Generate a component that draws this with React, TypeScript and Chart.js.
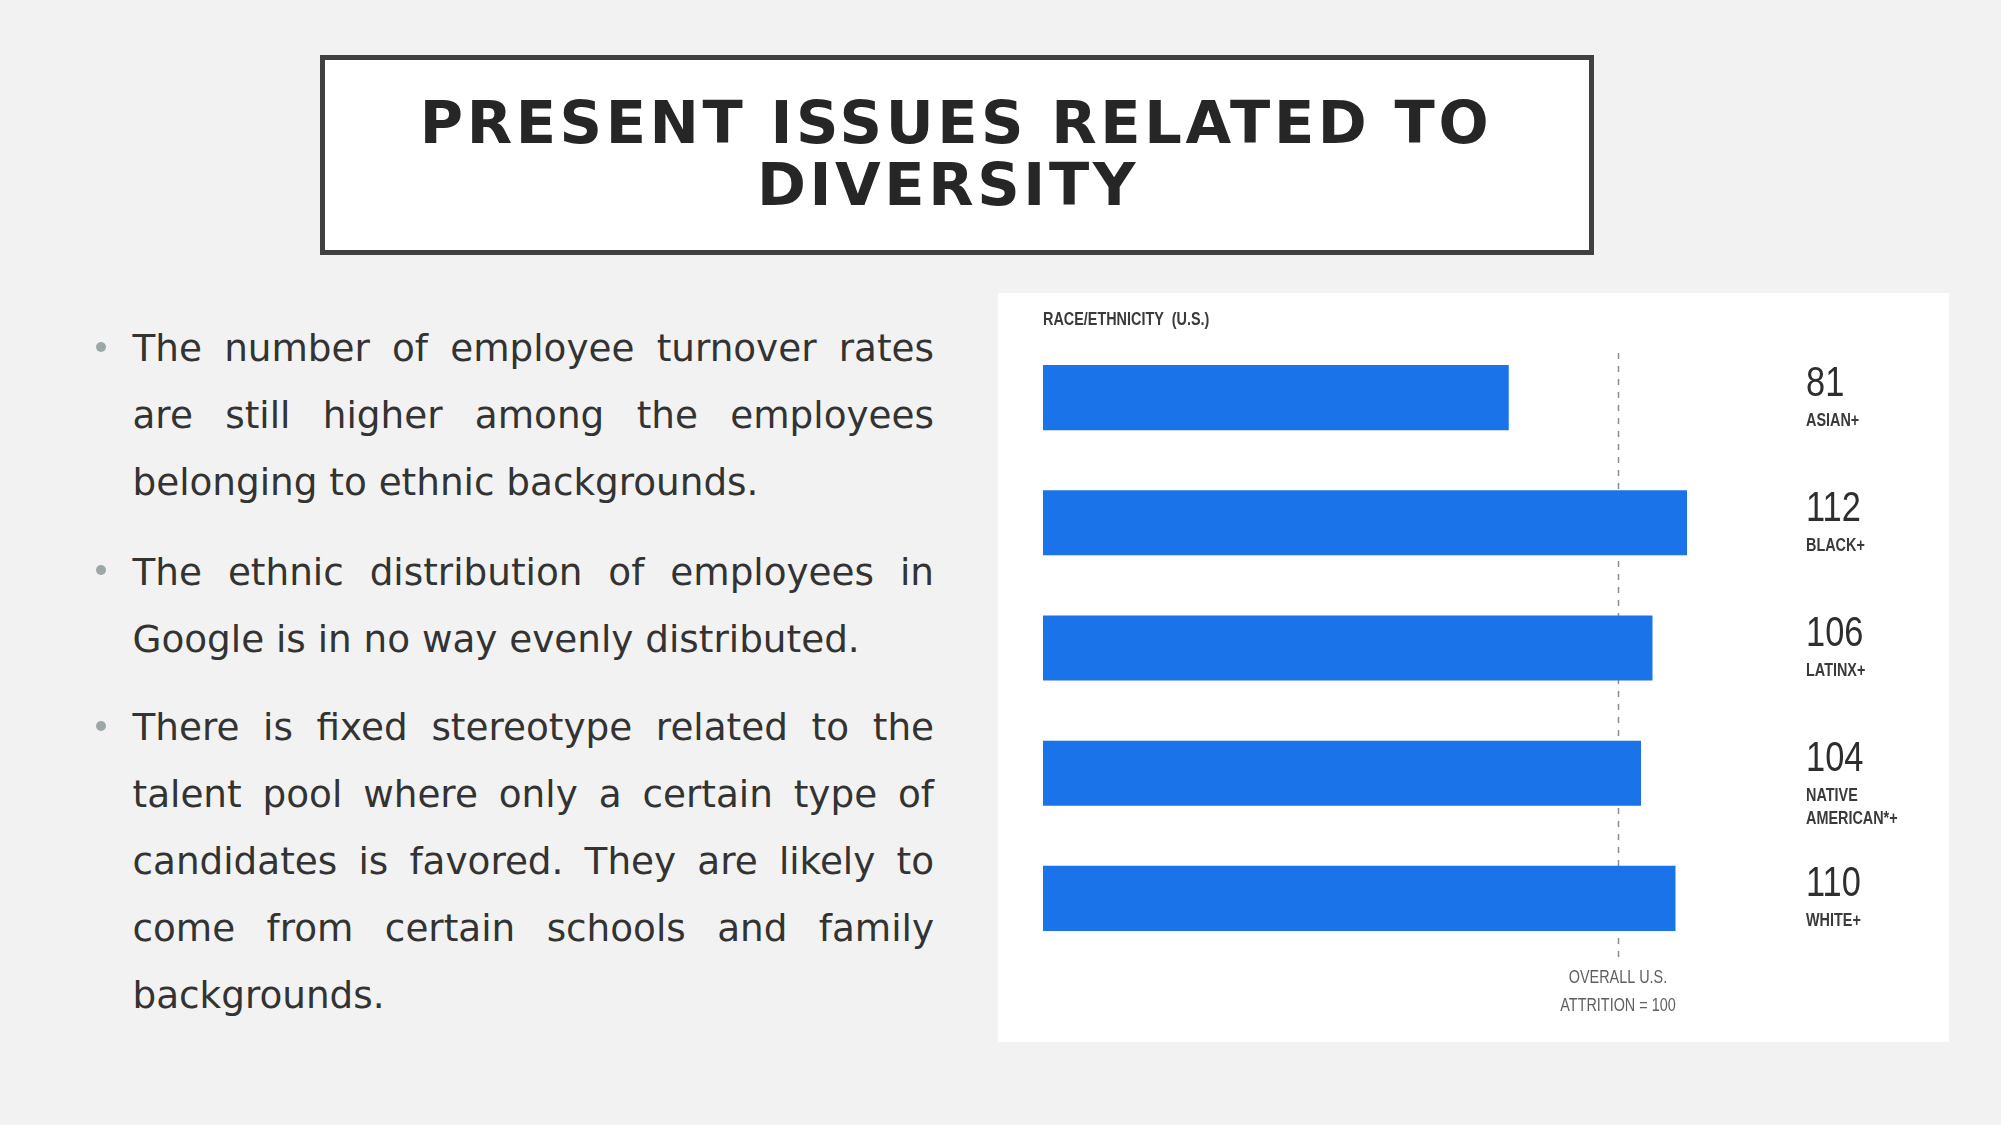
import React, { useEffect, useRef } from "react";
import { Chart, registerables } from "chart.js";

Chart.register(...registerables);

const categories = ["ASIAN+", "BLACK+", "LATINX+", "NATIVE AMERICAN*+", "WHITE+"];
const attritionValues = [81, 112, 106, 104, 110];
const categoryLabelLines = [["ASIAN+"], ["BLACK+"], ["LATINX+"], ["NATIVE", "AMERICAN*+"], ["WHITE+"]];
const referenceValue = 100;
const axisMin = 0;
const axisMax = 150;
const chartHeading = "RACE/ETHNICITY  (U.S.)";
const referenceLabelLines = ["OVERALL U.S.", "ATTRITION = 100"];

const titleLines = ["PRESENT ISSUES RELATED TO", "DIVERSITY"];
const bulletParagraphs = [
  ["The number of employee turnover rates", "are still higher among the employees", "belonging to ethnic backgrounds."],
  ["The ethnic distribution of employees in", "Google is in no way evenly distributed."],
  [
    "There is fixed stereotype related to the",
    "talent pool where only a certain type of",
    "candidates is favored. They are likely to",
    "come from certain schools and family",
    "backgrounds.",
  ],
];

const NARROW = 0.8;

function drawNarrow(ctx: CanvasRenderingContext2D, text: string, x: number, y: number, font: string, color: string, align: CanvasTextAlign) {
  ctx.save();
  ctx.translate(x, y);
  ctx.scale(NARROW, 1);
  ctx.font = font;
  ctx.fillStyle = color;
  ctx.textAlign = align;
  ctx.textBaseline = "alphabetic";
  ctx.fillText(text, 0, 0);
  ctx.restore();
}

const annotationPlugin = {
  id: "annotations",
  beforeDatasetsDraw(chart: any) {
    const { ctx, chartArea, scales } = chart;
    const x = Math.round(scales.x.getPixelForValue(referenceValue)) + 0.5;
    ctx.save();
    ctx.strokeStyle = "#8c8c8c";
    ctx.lineWidth = 1.5;
    ctx.setLineDash([6, 7]);
    ctx.beginPath();
    ctx.moveTo(x, chartArea.top + 18);
    ctx.lineTo(x, chartArea.bottom - 2);
    ctx.stroke();
    ctx.restore();
  },
  afterDatasetsDraw(chart: any) {
    const { ctx, chartArea, scales } = chart;
    drawNarrow(ctx, chartHeading, chartArea.left, chartArea.top - 10, "bold 18px 'Liberation Sans'", "#3a3a3a", "left");
    const labelX = chartArea.left + 763;
    attritionValues.forEach((v, i) => {
      const y = scales.y.getPixelForValue(i);
      drawNarrow(ctx, String(v), labelX, y - 2, "43px 'Liberation Sans'", "#2e2e2e", "left");
      categoryLabelLines[i].forEach((line, j) => {
        drawNarrow(ctx, line, labelX, y + 28 + j * 23, "bold 18px 'Liberation Sans'", "#3a3a3a", "left");
      });
    });
    const rx = scales.x.getPixelForValue(referenceValue);
    referenceLabelLines.forEach((line, j) => {
      drawNarrow(ctx, line, rx, chartArea.bottom + 22 + j * 28, "18px 'Liberation Sans'", "#5f5f5f", "center");
    });
  },
};

function BarChart() {
  const ref = useRef<HTMLCanvasElement | null>(null);
  useEffect(() => {
    if (!ref.current) return;
    const chart = new Chart(ref.current, {
      type: "bar",
      data: {
        labels: categories,
        datasets: [
          {
            data: attritionValues,
            backgroundColor: "#1a73e8",
            borderWidth: 0,
            categoryPercentage: 1,
            barPercentage: 0.52,
          },
        ],
      },
      options: {
        indexAxis: "y",
        animation: false,
        responsive: false,
        devicePixelRatio: 1,
        layout: { padding: { left: 45, right: 43.5, top: 42, bottom: 81 } },
        scales: {
          x: { min: axisMin, max: axisMax, display: false },
          y: { display: false },
        },
        plugins: { legend: { display: false }, tooltip: { enabled: false } },
      },
      plugins: [annotationPlugin],
    } as any);
    return () => chart.destroy();
  }, []);
  return <canvas ref={ref} width={951} height={749} style={{ display: "block" }} />;
}

export default function App() {
  useEffect(() => {
    document.body.style.margin = "0";
    document.body.style.overflow = "hidden";
  }, []);

  const baselines: number[][] = [
    [361.5, 428.5, 495.5],
    [585, 652],
    [740.5, 807.5, 874.5, 941.5, 1008.5],
  ];
  const fontSize = 37.33;
  const lineH = 67;
  const baseOffset = (lineH - 1.164 * fontSize) / 2 + 0.928 * fontSize;

  return (
    <div
      style={{
        position: "absolute",
        left: 0,
        top: 0,
        width: 2001,
        height: 1125,
        background: "#f2f2f2",
        overflow: "hidden",
        fontFamily: "'DejaVu Sans', sans-serif",
      }}
    >
      <div
        style={{
          position: "absolute",
          left: 320,
          top: 55,
          width: 1274,
          height: 200,
          boxSizing: "border-box",
          border: "5px solid #404040",
          background: "#ffffff",
        }}
      />
      {titleLines.map((t, i) => (
        <div
          key={t}
          style={{
            position: "absolute",
            left: 320,
            width: 1274,
            top: (i === 0 ? 142.7 : 205) - 49.9,
            boxSizing: "border-box",
            paddingLeft: 0,
            paddingRight: i === 0 ? 2 : 18,
            textAlign: "center",
            fontWeight: "bold",
            fontSize: 59,
            lineHeight: "59px",
            letterSpacing: "3.6px",
            color: "#262626",
            whiteSpace: "nowrap",
          }}
        >
          {t}
        </div>
      ))}
      {bulletParagraphs.map((para, p) => (
        <React.Fragment key={p}>
          <div
            style={{
              position: "absolute",
              left: 96.2,
              top: baselines[p][0] - 15 - 5,
              width: 10,
              height: 10,
              borderRadius: "50%",
              background: "#9ea7a7",
            }}
          />
          {para.map((line, l) => (
            <div
              key={l}
              style={{
                position: "absolute",
                left: 132.5,
                width: 801.5,
                top: baselines[p][l] - baseOffset,
                fontSize: fontSize,
                lineHeight: lineH + "px",
                color: "#333333",
                textAlign: l === para.length - 1 ? "left" : "justify",
                textAlignLast: l === para.length - 1 ? "left" : "justify",
                whiteSpace: "nowrap",
              } as any}
            >
              {line}
            </div>
          ))}
        </React.Fragment>
      ))}
      <div
        style={{
          position: "absolute",
          left: 998,
          top: 293,
          width: 951,
          height: 749,
          background: "#ffffff",
        }}
      >
        <BarChart />
      </div>
    </div>
  );
}
